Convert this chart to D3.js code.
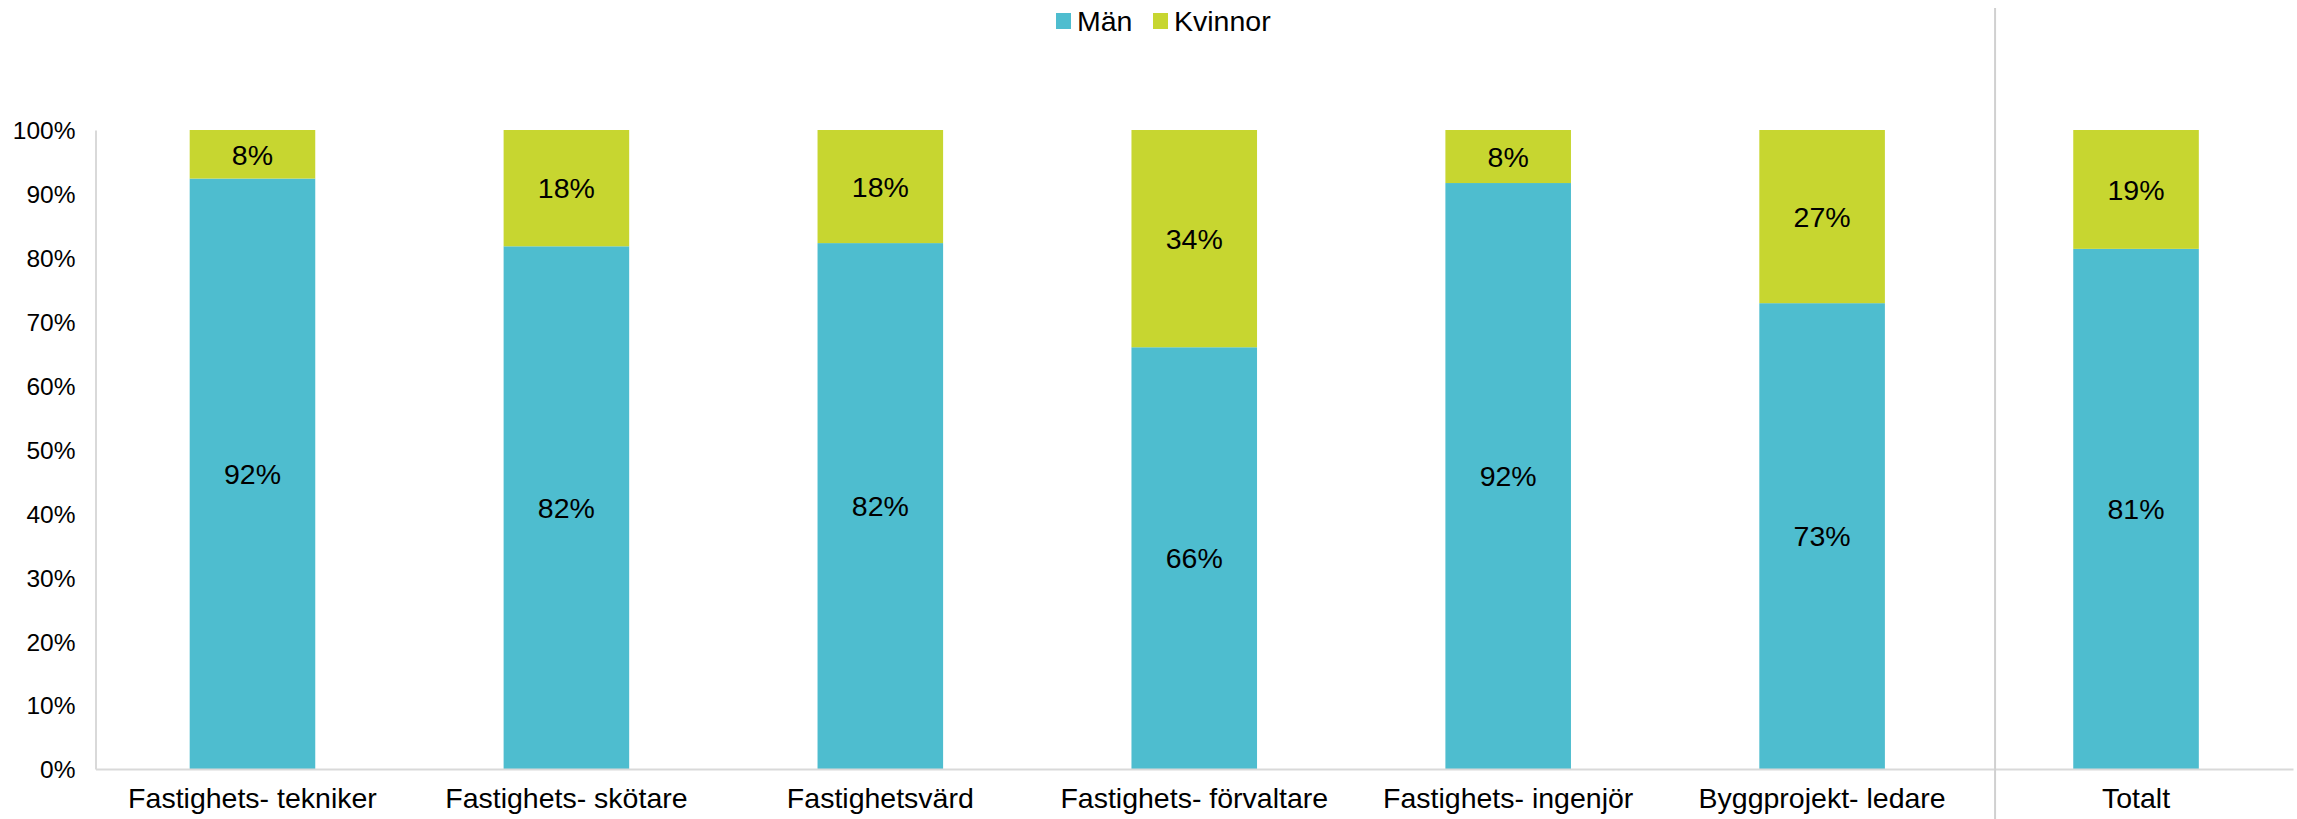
<!DOCTYPE html>
<html>
<head>
<meta charset="utf-8">
<script src="https://cdn.jsdelivr.net/npm/d3@7"></script>
<style>
  body { margin: 0; background: #fff; }
  text { font-family: "Liberation Sans", Arial, sans-serif; fill: #000; }
</style>
</head>
<body>
<div id="chart"></div>
<script>
var categories = ['Fastighets- tekniker', 'Fastighets- skötare', 'Fastighetsvärd',
                  'Fastighets- förvaltare', 'Fastighets- ingenjör', 'Byggprojekt- ledare', 'Totalt']
var man = [92.4, 81.8, 82.3, 66.0, 91.7, 72.9, 81.4]
var kvinnor = [7.6, 18.2, 17.7, 34.0, 8.3, 27.1, 18.6]
var seriesNames = ['Män', 'Kvinnor']
var yTicks = [0, 10, 20, 30, 40, 50, 60, 70, 80, 90, 100]

var colors = { 'Män': '#4EBDCF', 'Kvinnor': '#C7D630' }

var svg_width = 2297,
    svg_height = 819,
    margin = { top: 130, right: 4, bottom: 50, left: 95.5 },
    chart_width = svg_width - margin.left - margin.right,
    chart_height = svg_height - margin.top - margin.bottom

var svg = d3.select('#chart')
    .append('svg')
    .attr('width', svg_width)
    .attr('height', svg_height)

var chartGroup = svg.append('g')
    .attr('transform', `translate(${margin.left}, ${margin.top})`)

var xScale = d3.scaleBand()
    .domain(categories)
    .range([0, chart_width])
    .paddingInner(0.6)
    .paddingOuter(0.3)

var yScale = d3.scaleLinear()
    .domain([0, 100])
    .range([chart_height, 0])

var data = categories.map((c, i) => ({ cat: c, 'Män': man[i], 'Kvinnor': kvinnor[i] }))
var stacked = d3.stack().keys(seriesNames)(data)

// bars
chartGroup.append('g')
    .selectAll('g')
    .data(stacked)
    .enter()
    .append('g')
    .attr('fill', d => colors[d.key])
    .selectAll('rect')
    .data(d => d)
    .enter()
    .append('rect')
    .attr('x', d => xScale(d.data.cat))
    .attr('y', d => yScale(d[1]))
    .attr('width', xScale.bandwidth())
    .attr('height', d => yScale(d[0]) - yScale(d[1]))

// data labels
chartGroup.append('g')
    .selectAll('g')
    .data(stacked)
    .enter()
    .append('g')
    .selectAll('text')
    .data(d => d)
    .enter()
    .append('text')
    .attr('x', d => xScale(d.data.cat) + xScale.bandwidth() / 2)
    .attr('y', d => (yScale(d[0]) + yScale(d[1])) / 2)
    .attr('text-anchor', 'middle')
    .attr('dy', '0.36em')
    .style('font-size', '28.5px')
    .text(d => Math.round(d[1] - d[0]) + '%')

// y axis
var yAxis = chartGroup.append('g')
    .call(d3.axisLeft(yScale).tickValues(yTicks).tickSize(0).tickPadding(20).tickFormat(d => d + '%'))
yAxis.select('.domain').attr('stroke', '#D9D9D9').attr('stroke-width', 2)
yAxis.selectAll('text').style('font-size', '24.5px').attr('dy', '0.36em')

// x axis
var xAxis = chartGroup.append('g')
    .attr('transform', `translate(0, ${chart_height})`)
    .call(d3.axisBottom(xScale).tickSize(0).tickPadding(19))
xAxis.select('.domain').attr('stroke', '#D9D9D9').attr('stroke-width', 2)
xAxis.selectAll('text').style('font-size', '28.5px')

// separator before Totalt
var sepX = xScale('Totalt') - xScale.step() * xScale.paddingInner() / 2 + 16
svg.append('line')
    .attr('x1', margin.left + sepX)
    .attr('x2', margin.left + sepX)
    .attr('y1', 8)
    .attr('y2', svg_height)
    .attr('stroke', '#D0D0D0')
    .attr('stroke-width', 2)

// legend
var legendPos = [1056, 1153]
var legend = svg.append('g')
    .selectAll('g')
    .data(seriesNames)
    .enter()
    .append('g')
    .attr('transform', (d, i) => `translate(${legendPos[i]}, 13)`)
legend.append('rect')
    .attr('width', 15)
    .attr('height', 16)
    .attr('fill', d => colors[d])
legend.append('text')
    .attr('x', 21)
    .attr('y', 18)
    .style('font-size', '28.5px')
    .text(d => d)
</script>
</body>
</html>
